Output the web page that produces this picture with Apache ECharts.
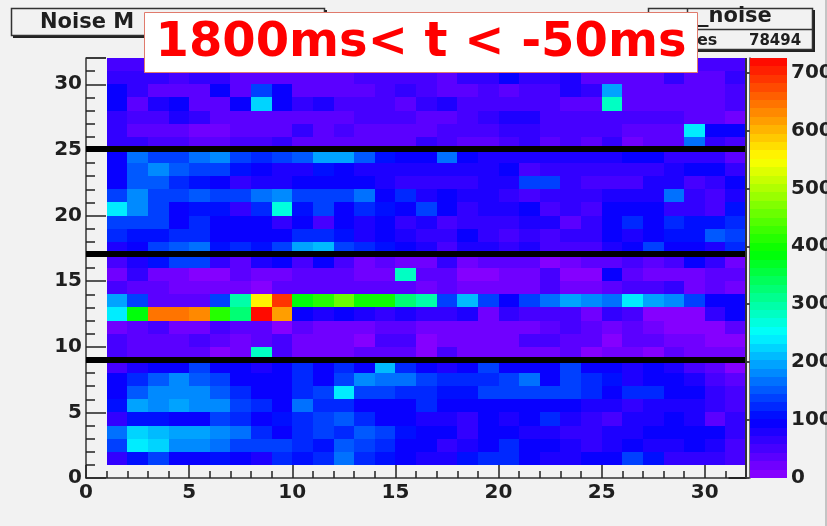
<!DOCTYPE html>
<html lang="en">

<head>
    <meta charset="UTF-8">
    <title>Noise Map</title>
    <script src="https://cdn.jsdelivr.net/npm/echarts@6/dist/echarts.min.js"></script>
    <style>
        html, body { margin: 0; padding: 0; background: #f2f2f2; }
    </style>
</head>

<body>
    <div id="Start" style="width: 827px;height: 526px;"></div>
    <script>
        let chart = echarts.init(document.getElementById('Start'));

        // cell contents, top row (y = 31) first, columns x = 1..31
        var rows = [
            [48, 48, 48, 48, 50, 50, 50, 48, 48, 50, 50, 50, 48, 48, 48, 48, 50, 50, 48, 48, 50, 48, 48, 48, 48, 50, 45, 50, 50, 48, 48],
            [70, 70, 70, 45, 60, 60, 40, 40, 40, 40, 40, 40, 50, 50, 50, 55, 35, 60, 60, 90, 60, 60, 75, 35, 35, 35, 35, 60, 40, 40, 60],
            [100, 60, 35, 40, 40, 90, 35, 143, 100, 35, 35, 35, 35, 55, 60, 45, 30, 30, 50, 30, 55, 55, 75, 60, 194, 40, 40, 40, 40, 40, 55],
            [90, 40, 80, 100, 40, 35, 90, 222, 100, 65, 85, 45, 45, 50, 35, 65, 85, 50, 50, 50, 50, 50, 40, 40, 280, 40, 40, 40, 40, 40, 55],
            [65, 45, 45, 75, 65, 35, 40, 40, 40, 40, 40, 40, 55, 55, 50, 35, 30, 50, 70, 75, 75, 50, 50, 50, 50, 45, 45, 55, 40, 40, 15],
            [60, 40, 35, 35, 15, 15, 35, 35, 35, 60, 35, 55, 35, 35, 35, 30, 55, 50, 50, 70, 70, 50, 50, 50, 50, 40, 40, 40, 245, 90, 90],
            [70, 65, 45, 45, 40, 40, 45, 45, 65, 40, 40, 40, 40, 40, 40, 65, 55, 40, 30, 55, 65, 35, 55, 35, 60, 15, 40, 40, 166, 65, 45],
            [100, 166, 143, 143, 170, 184, 138, 120, 138, 150, 190, 190, 150, 113, 100, 100, 160, 90, 75, 85, 85, 85, 85, 85, 75, 90, 90, 70, 70, 60, 35],
            [90, 156, 184, 156, 138, 138, 113, 100, 85, 85, 113, 90, 85, 85, 85, 85, 75, 75, 75, 100, 45, 65, 65, 65, 65, 60, 70, 85, 90, 100, 70],
            [100, 156, 156, 127, 113, 100, 70, 85, 85, 100, 100, 100, 100, 85, 70, 70, 70, 70, 85, 75, 143, 143, 70, 45, 45, 45, 85, 75, 50, 70, 100],
            [138, 175, 132, 132, 156, 138, 138, 166, 186, 143, 143, 143, 160, 100, 120, 85, 100, 80, 80, 70, 45, 65, 65, 65, 75, 85, 85, 166, 70, 50, 85],
            [245, 180, 132, 100, 113, 113, 65, 127, 270, 113, 143, 100, 120, 113, 90, 132, 90, 60, 80, 75, 90, 50, 65, 55, 100, 100, 100, 70, 70, 50, 113],
            [138, 138, 138, 100, 127, 100, 95, 100, 70, 100, 55, 100, 85, 100, 70, 80, 55, 60, 60, 70, 75, 75, 40, 65, 90, 120, 90, 127, 113, 113, 127],
            [127, 113, 113, 127, 120, 100, 100, 90, 100, 127, 120, 113, 85, 100, 85, 70, 60, 95, 70, 55, 60, 55, 60, 70, 100, 85, 100, 113, 113, 150, 132],
            [80, 100, 138, 156, 160, 113, 127, 113, 138, 190, 213, 138, 127, 113, 90, 75, 45, 85, 85, 60, 75, 45, 55, 45, 85, 100, 143, 90, 100, 85, 120],
            [50, 85, 113, 138, 138, 60, 35, 85, 100, 50, 90, 50, 15, 35, 15, 15, 60, 20, 35, 40, 30, 10, 15, 40, 35, 55, 35, 50, 100, 70, 15],
            [15, 60, 25, 25, 10, 10, 30, 25, 25, 35, 35, 35, 20, 20, 280, 30, 35, 10, 10, 25, 25, 50, 10, 10, 100, 40, 25, 25, 15, 35, 30],
            [50, 30, 30, 15, 15, 15, 25, 10, 30, 30, 30, 30, 30, 30, 30, 15, 40, 15, 15, 25, 25, 45, 15, 15, 30, 50, 55, 65, 15, 35, 20],
            [190, 132, 30, 30, 30, 132, 290, 555, 690, 385, 410, 450, 400, 395, 320, 295, 138, 213, 132, 100, 132, 166, 190, 180, 166, 245, 194, 184, 138, 100, 100],
            [245, 385, 650, 650, 635, 420, 330, 720, 620, 100, 75, 90, 85, 70, 80, 60, 70, 75, 15, 60, 55, 55, 55, 15, 65, 45, 10, 10, 10, 70, 100],
            [25, 35, 45, 25, 25, 50, 30, 30, 10, 35, 15, 15, 15, 35, 30, 20, 25, 25, 25, 25, 25, 40, 45, 35, 15, 30, 15, 10, 10, 10, 35],
            [50, 30, 30, 30, 50, 30, 25, 30, 45, 15, 15, 25, 10, 50, 45, 10, 25, 25, 25, 25, 45, 45, 35, 30, 10, 30, 30, 15, 15, 10, 10],
            [50, 30, 30, 30, 30, 10, 25, 285, 55, 15, 15, 15, 30, 40, 30, 10, 50, 20, 20, 20, 20, 20, 30, 10, 25, 25, 10, 40, 15, 15, 15],
            [50, 85, 100, 95, 143, 100, 95, 75, 90, 127, 100, 127, 100, 213, 127, 95, 75, 100, 143, 100, 100, 95, 138, 100, 100, 85, 95, 75, 55, 30, 10],
            [90, 120, 150, 175, 156, 132, 100, 100, 100, 120, 100, 132, 175, 166, 166, 132, 120, 120, 127, 143, 160, 100, 138, 127, 113, 85, 95, 90, 75, 55, 40],
            [90, 156, 175, 175, 184, 156, 127, 100, 100, 127, 138, 245, 138, 138, 127, 120, 113, 113, 143, 143, 143, 132, 132, 120, 100, 120, 120, 95, 90, 70, 50],
            [113, 190, 175, 198, 180, 180, 132, 127, 100, 166, 127, 127, 100, 100, 100, 120, 100, 90, 100, 100, 100, 100, 95, 85, 85, 60, 75, 75, 80, 60, 50],
            [70, 113, 113, 100, 100, 138, 127, 100, 113, 127, 138, 156, 127, 95, 100, 85, 75, 70, 100, 85, 100, 120, 85, 65, 50, 75, 75, 100, 85, 40, 60],
            [166, 222, 208, 198, 190, 175, 160, 120, 100, 127, 138, 120, 150, 138, 113, 100, 90, 60, 100, 100, 80, 80, 65, 65, 75, 75, 90, 100, 90, 90, 70],
            [132, 245, 226, 175, 175, 160, 143, 138, 138, 120, 113, 150, 132, 127, 100, 90, 70, 85, 100, 127, 100, 100, 75, 70, 85, 90, 75, 75, 90, 80, 55],
            [60, 113, 143, 100, 100, 113, 90, 85, 127, 113, 127, 160, 127, 113, 100, 80, 75, 113, 120, 120, 100, 85, 85, 100, 100, 132, 113, 60, 60, 60, 45]
        ];
        var separatorY = [25.09, 17.07, 9.03];
        var paletteStops = [
            [0, [143, 0, 255]],
            [100, [0, 0, 255]],
            [250, [0, 255, 255]],
            [390, [0, 255, 0]],
            [550, [255, 255, 0]],
            [725, [255, 0, 0]]
        ];
        var zMax = 725;
        var bandCount = 50;
        var colorbarTicks = [0, 100, 200, 300, 400, 500, 600, 700];

        // ROOT draws 50 flat palette bands, not a smooth ramp
        function bandColor(v) {
            var band = Math.min(bandCount - 1, Math.floor(v / zMax * bandCount));
            var mid = (band + 0.5) * zMax / bandCount;
            for (var i = 1; i < paletteStops.length; i++) {
                if (mid <= paletteStops[i][0]) {
                    var a = paletteStops[i - 1], b = paletteStops[i];
                    var t = (mid - a[0]) / (b[0] - a[0]);
                    var c = [0, 1, 2].map(function (k) {
                        return Math.round(a[1][k] + (b[1][k] - a[1][k]) * t);
                    });
                    return 'rgb(' + c.join(',') + ')';
                }
            }
            return 'rgb(255,0,0)';
        }

        var cellData = [];
        rows.forEach(function (row, r) {
            row.forEach(function (v, c) {
                cellData.push([c + 1, 31 - r, v]);
            });
        });

        var bandData = [];
        for (var i = 0; i < bandCount; i++) {
            bandData.push([i * zMax / bandCount, (i + 1) * zMax / bandCount]);
        }

        // snap to whole pixels, otherwise the antialiased edges show as a light grid
        function snappedRect(p0, p1) {
            var x0 = Math.round(p0[0]), y0 = Math.round(p0[1]);
            return { x: x0, y: y0, width: Math.round(p1[0]) - x0, height: Math.round(p1[1]) - y0 };
        }

        function renderCell(params, api) {
            var x = api.value(0), y = api.value(1);
            return {
                type: 'rect',
                shape: snappedRect(api.coord([x, y + 1]), api.coord([x + 1, y])),
                style: { fill: bandColor(api.value(2)) }
            };
        }

        function renderBand(params, api) {
            return {
                type: 'rect',
                shape: snappedRect(api.coord([0, api.value(1)]), api.coord([1, api.value(0)])),
                style: { fill: bandColor(api.value(0) + 1) }
            };
        }

        var axisText = { fontFamily: 'DejaVu Sans', fontWeight: 'bold', fontSize: 20, color: '#1f1f1f' };

        function boxText(x, y, text, size) {
            return {
                type: 'text', x: x, y: y, z: 10,
                style: {
                    text: text, fill: '#1f1f1f', fontFamily: 'DejaVu Sans', fontWeight: 'bold',
                    fontSize: size, textVerticalAlign: 'middle'
                }
            };
        }

        var option = {
            animation: false,
            backgroundColor: '#f2f2f2',
            grid: [
                { left: 86, right: 81, top: 58, bottom: 48, show: true, backgroundColor: '#f2f2f2', borderWidth: 0, outerBoundsMode: 'none' },
                { left: 749.5, width: 37.5, top: 58, bottom: 48, outerBoundsMode: 'none' }
            ],
            xAxis: [{
                type: 'value', gridIndex: 0, min: 0, max: 32, interval: 5,
                axisLine: { lineStyle: { color: '#333', width: 1.5 } },
                axisTick: { inside: true, length: 13, lineStyle: { color: '#222', width: 1.5 } },
                minorTick: { show: true, splitNumber: 5, length: 7, lineStyle: { color: '#222', width: 1.5 } },
                splitLine: { show: false },
                axisLabel: Object.assign({ margin: 1, showMaxLabel: false, padding: [4, 0, 0, 0] }, axisText)
            }, {
                type: 'value', gridIndex: 1, min: 0, max: 1, show: false
            }],
            yAxis: [{
                type: 'value', gridIndex: 0, min: 0, max: 32, interval: 5,
                axisLine: { lineStyle: { color: '#333', width: 1.5 } },
                axisTick: { inside: true, length: 20, lineStyle: { color: '#222', width: 1.5 } },
                minorTick: { show: true, splitNumber: 5, length: 9, lineStyle: { color: '#222', width: 1.5 } },
                splitLine: { show: false },
                axisLabel: Object.assign({ margin: 4, showMaxLabel: false, padding: [9, 0, 0, 0] }, axisText)
            }, {
                type: 'value', gridIndex: 1, position: 'right', min: 0, max: zMax,
                axisLine: { show: true, lineStyle: { color: '#444', width: 1.5 } },
                axisTick: { inside: true, length: 21, customValues: colorbarTicks, lineStyle: { color: '#111', width: 1.5 } },
                splitLine: { show: false },
                axisLabel: Object.assign({ margin: 4, customValues: colorbarTicks, padding: [9, 0, 0, 0] }, axisText)
            }],
            series: [{
                type: 'custom',
                xAxisIndex: 0, yAxisIndex: 0,
                renderItem: renderCell,
                encode: { x: 0, y: 1 },
                data: cellData,
                z: 1
            }, {
                type: 'custom',
                xAxisIndex: 1, yAxisIndex: 1,
                renderItem: renderBand,
                encode: { y: [0, 1] },
                data: bandData,
                z: 1
            }, {
                type: 'line',
                xAxisIndex: 0, yAxisIndex: 0,
                data: [],
                z: 5,
                markLine: {
                    silent: true,
                    symbol: 'none',
                    label: { show: false },
                    lineStyle: { color: '#000', width: 6, type: 'solid' },
                    data: separatorY.map(function (y) { return { yAxis: y }; })
                }
            }],
            graphic: [
                // pad edge and frame pieces of the ROOT canvas
                { type: 'rect', shape: { x: 825, y: 0, width: 2, height: 526 }, style: { fill: '#c4c4c4' } },
                { type: 'line', z: 6, shape: { x1: 746, y1: 58, x2: 746, y2: 478 }, style: { stroke: '#333', lineWidth: 2 } },
                { type: 'line', z: 6, shape: { x1: 86, y1: 58, x2: 106, y2: 58 }, style: { stroke: '#333', lineWidth: 1.5 } },

                // title box, mostly hidden by the label
                { type: 'rect', z: 8, shape: { x: 13, y: 10, width: 314, height: 28 }, style: { fill: '#222' } },
                { type: 'rect', z: 9, shape: { x: 11.5, y: 8.5, width: 313, height: 27 }, style: { fill: '#f2f2f2', stroke: '#333', lineWidth: 1.5 } },
                boxText(40, 23, 'Noise M', 21),

                // stats box
                { type: 'rect', z: 8, shape: { x: 650, y: 10, width: 165, height: 42 }, style: { fill: '#222' } },
                { type: 'rect', z: 9, shape: { x: 648.5, y: 8.5, width: 164, height: 41 }, style: { fill: '#f2f2f2', stroke: '#333', lineWidth: 1.5 } },
                { type: 'line', z: 10, shape: { x1: 648, y1: 29.5, x2: 813, y2: 29.5 }, style: { stroke: '#333', lineWidth: 1.5 } },
                { type: 'line', z: 10, shape: { x1: 687.5, y1: 8, x2: 687.5, y2: 13 }, style: { stroke: '#333', lineWidth: 1.5 } },
                boxText(698, 17, '_noise', 21),
                boxText(697, 41, 'es', 16),
                boxText(749, 41, '78494', 15),

                // pasted label on top of everything
                { type: 'rect', z: 20, shape: { x: 144.5, y: 12.5, width: 553, height: 60 }, style: { fill: '#fff', stroke: '#e07a6c', lineWidth: 1 } },
                {
                    type: 'text', x: 421, y: 44, z: 21,
                    style: {
                        text: '1800ms< t < -50ms', fill: '#ff0000', fontFamily: 'DejaVu Sans', fontWeight: 'bold',
                        fontSize: 48, textAlign: 'center', textVerticalAlign: 'middle'
                    }
                }
            ]
        };
        chart.setOption(option);
    </script>
</body>

</html>
